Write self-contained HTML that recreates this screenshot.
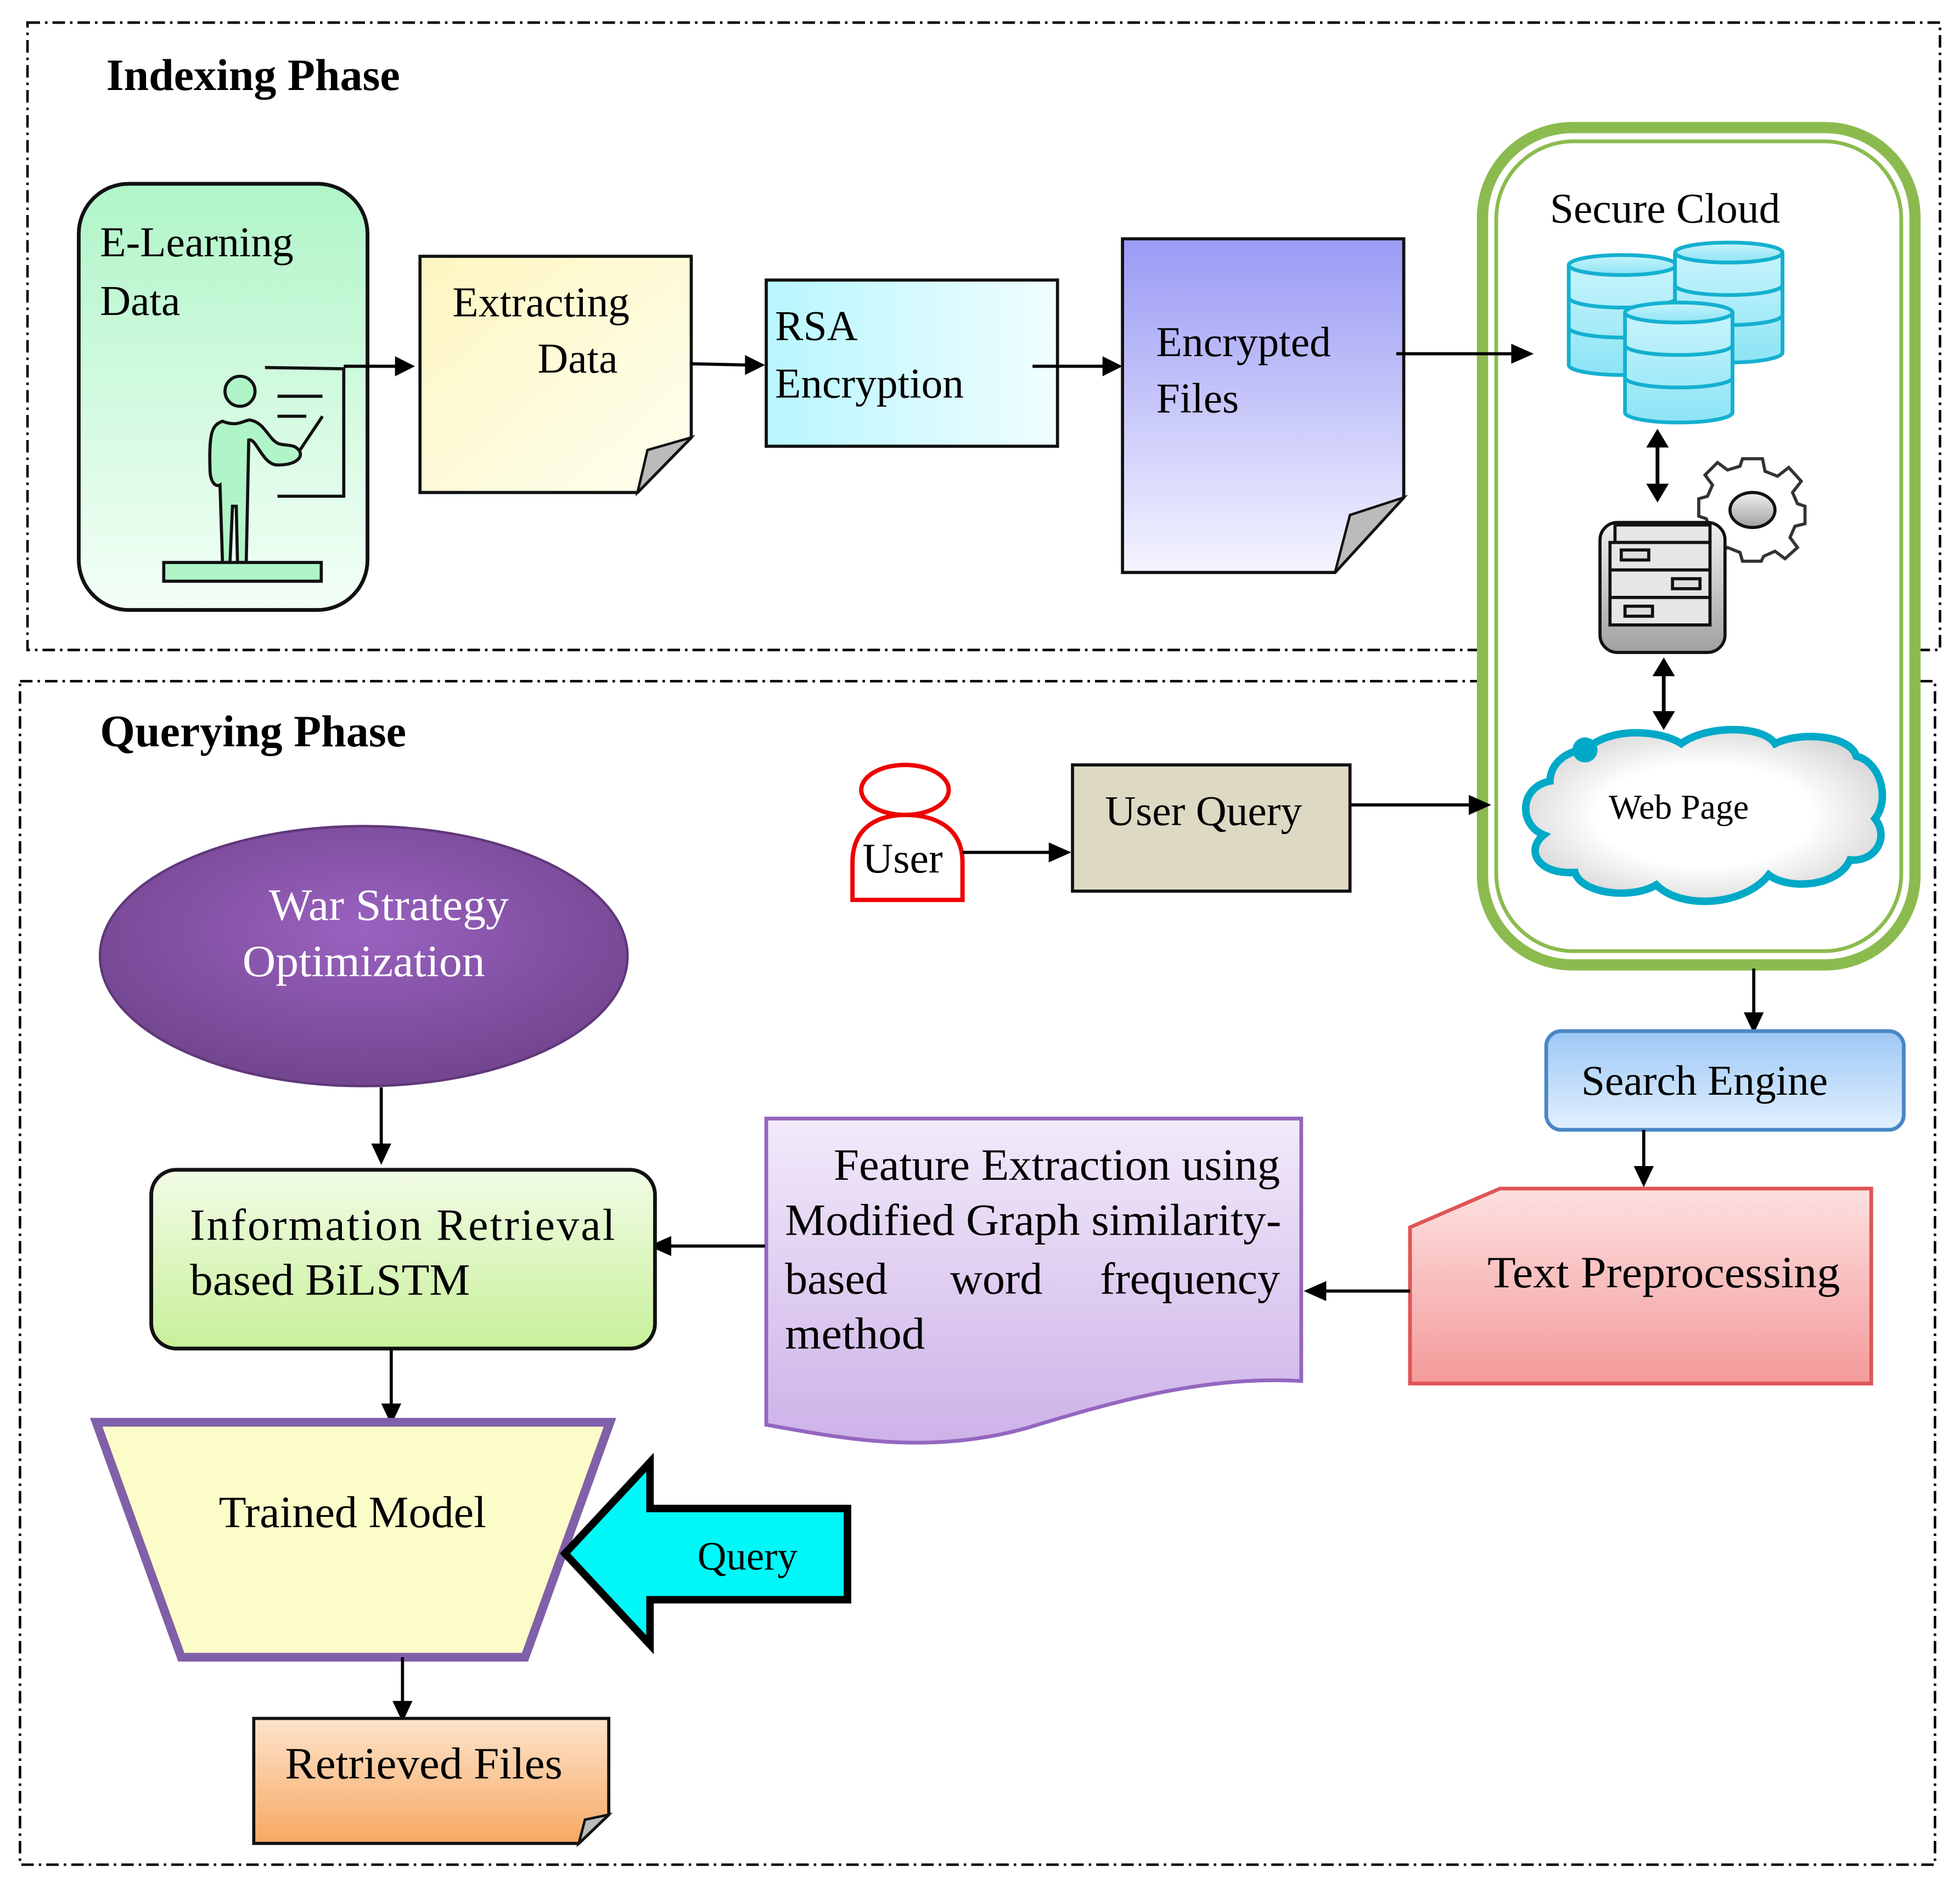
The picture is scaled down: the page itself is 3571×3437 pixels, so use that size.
<!DOCTYPE html>
<html><head><meta charset="utf-8"><style>html,body{margin:0;padding:0;background:#fff}svg{display:block}svg text{font-family:"Liberation Serif","Times New Roman",serif}</style></head>
<body>
<svg width="3571" height="3437" viewBox="0 0 1568 1509" xmlns="http://www.w3.org/2000/svg" style="font-family:'Liberation Serif',serif">
<defs>
<linearGradient id="gGreen" x1="0" y1="0" x2="0" y2="1"><stop offset="0" stop-color="#b0f5c8"/><stop offset="1" stop-color="#f4fff7"/></linearGradient>
<linearGradient id="gYel" x1="0" y1="0" x2="1" y2="1"><stop offset="0" stop-color="#fdf6c0"/><stop offset="1" stop-color="#fffff0"/></linearGradient>
<linearGradient id="gCyan" x1="0" y1="0" x2="1" y2="0"><stop offset="0" stop-color="#b8f6ff"/><stop offset="1" stop-color="#f0feff"/></linearGradient>
<linearGradient id="gBlue" x1="0" y1="0" x2="0" y2="1"><stop offset="0" stop-color="#9a9af5"/><stop offset="1" stop-color="#f4f4ff"/></linearGradient>
<linearGradient id="gSE" x1="0" y1="0" x2="0" y2="1"><stop offset="0" stop-color="#9cc8f5"/><stop offset="1" stop-color="#e2f0ff"/></linearGradient>
<linearGradient id="gTP" x1="0" y1="0" x2="0" y2="1"><stop offset="0" stop-color="#fde0e0"/><stop offset="1" stop-color="#f49a9a"/></linearGradient>
<linearGradient id="gFE" x1="0" y1="0" x2="0" y2="1"><stop offset="0" stop-color="#f2eafa"/><stop offset="1" stop-color="#cdb2e8"/></linearGradient>
<linearGradient id="gIR" x1="0" y1="0" x2="0" y2="1"><stop offset="0" stop-color="#f2fce6"/><stop offset="1" stop-color="#c8f09a"/></linearGradient>
<linearGradient id="gRF" x1="0" y1="0" x2="0" y2="1"><stop offset="0" stop-color="#fde4cc"/><stop offset="1" stop-color="#f7a862"/></linearGradient>
<linearGradient id="gDB" x1="0" y1="0" x2="0" y2="1"><stop offset="0" stop-color="#c8f4fc"/><stop offset="1" stop-color="#8ce4f5"/></linearGradient>
<radialGradient id="gWSO" cx="0.5" cy="0.4" r="0.6"><stop offset="0" stop-color="#9a62c0"/><stop offset="1" stop-color="#72458f"/></radialGradient>
<radialGradient id="gCl" cx="0.5" cy="0.5" r="0.6"><stop offset="0.5" stop-color="#ffffff"/><stop offset="1" stop-color="#cfcfcf"/></radialGradient>
<linearGradient id="gSrv" x1="0" y1="0" x2="0" y2="1"><stop offset="0" stop-color="#f0f0f0"/><stop offset="1" stop-color="#a0a0a0"/></linearGradient>
</defs>
<g fill="none" stroke="#000" stroke-width="2" stroke-dasharray="10,4,2,4">
<rect x="22" y="18" width="1530" height="502"/>
<rect x="16" y="545" width="1532" height="947"/>
</g>
<text x="85" y="72" font-size="36" font-weight="bold">Indexing Phase</text>
<text x="80" y="597" font-size="36" font-weight="bold">Querying Phase</text>

<rect x="63" y="147" width="231" height="341" rx="40" fill="url(#gGreen)" stroke="#111" stroke-width="3"/>
<text x="80" y="205" font-size="34">E-Learning</text>
<text x="80" y="252" font-size="34">Data</text>
<g stroke="#111" stroke-width="2.5" fill="#b0f5c8">
<polyline points="212,294 275,295 275,397 222,397" fill="none"/>
<line x1="222" y1="317" x2="258" y2="317"/><line x1="222" y1="333" x2="245" y2="333"/><line x1="240" y1="360" x2="258" y2="333"/>
<circle cx="192" cy="313" r="12"/>
<path d="M178,337 C170,340 167,345 168,375 C168,385 172,390 176,388 L178,450 L184,450 L186,405 L189,405 L190,450 L197,450 L199,352 C205,350 210,372 222,372 C238,372 243,365 239,360 C235,355 230,357 223,355 C215,352 212,338 200,336 C195,336 190,342 178,337 Z"/>
<rect x="131" y="450" width="126" height="15"/>
</g>
<line x1="275" y1="293" x2="318" y2="293" stroke="#000" stroke-width="2.5"/><path d="M332,293 L316,285 L316,301Z"/>

<path d="M336,205 L553,205 L553,350 L510,394 L336,394Z" fill="url(#gYel)" stroke="#111" stroke-width="2.5"/>
<path d="M510,394 L518,360 L553,350Z" fill="#bbb" stroke="#111" stroke-width="2"/>
<text x="362" y="253" font-size="34">Extracting</text>
<text x="430" y="298" font-size="34">Data</text>
<line x1="553" y1="291" x2="598" y2="292" stroke="#000" stroke-width="2.5"/><path d="M612,292 L596,284 L596,300Z"/>

<rect x="613" y="224" width="233" height="133" fill="url(#gCyan)" stroke="#111" stroke-width="2.5"/>
<text x="620" y="272" font-size="34">RSA</text>
<text x="620" y="318" font-size="34">Encryption</text>
<line x1="826" y1="293" x2="884" y2="293" stroke="#000" stroke-width="2.5"/><path d="M898,293 L882,285 L882,301Z"/>

<path d="M898,191 L1123,191 L1123,398 L1068,458 L898,458Z" fill="url(#gBlue)" stroke="#111" stroke-width="2.5"/>
<path d="M1068,458 L1080,412 L1123,398Z" fill="#bbb" stroke="#111" stroke-width="2"/>
<text x="925" y="285" font-size="34">Encrypted</text>
<text x="925" y="330" font-size="34">Files</text>

<rect x="1186" y="102" width="346" height="670" rx="72" fill="#fff" stroke="#8bbb4f" stroke-width="9"/>
<rect x="1197" y="113" width="324" height="648" rx="62" fill="none" stroke="#8bbb4f" stroke-width="3"/>
<line x1="1117" y1="283" x2="1211" y2="283" stroke="#000" stroke-width="2.5"/><path d="M1227,283 L1209,275 L1209,291Z"/>
<text x="1240" y="178" font-size="34">Secure Cloud</text>
<g stroke="#14b0d0" stroke-width="3" fill="url(#gDB)">
<path d="M1255,212 L1255,292 A43,8 0 0 0 1341,292 L1341,212"/><ellipse cx="1298" cy="212" rx="43" ry="8"/>
<path d="M1255,238 A43,8 0 0 0 1341,238 M1255,262 A43,8 0 0 0 1341,262" fill="none"/>
<path d="M1340,202 L1340,282 A43,8 0 0 0 1426,282 L1426,202"/><ellipse cx="1383" cy="202" rx="43" ry="8"/>
<path d="M1340,228 A43,8 0 0 0 1426,228 M1340,252 A43,8 0 0 0 1426,252" fill="none"/>
<path d="M1300,250 L1300,330 A43,8 0 0 0 1386,330 L1386,250"/><ellipse cx="1343" cy="250" rx="43" ry="8"/>
<path d="M1300,276 A43,8 0 0 0 1386,276 M1300,302 A43,8 0 0 0 1386,302" fill="none"/>
</g>
<line x1="1326" y1="355" x2="1326" y2="390" stroke="#000" stroke-width="3"/>
<path d="M1326,343 L1317,358 L1335,358Z M1326,402 L1317,387 L1335,387Z"/>
<line x1="1331" y1="538" x2="1331" y2="572" stroke="#000" stroke-width="3"/>
<path d="M1331,526 L1322,541 L1340,541Z M1331,584 L1322,569 L1340,569Z"/>
<g transform="translate(1402,407)">
<path d="M-8,-40 L8,-40 L10,-30 L20,-26 L29,-33 L39,-22 L32,-13 L36,-4 L42,-2 L42,12 L34,14 L30,23 L36,31 L26,40 L18,34 L9,38 L7,42 L-8,42 L-10,35 L-20,31 L-28,37 L-39,27 L-33,18 L-37,8 L-43,6 L-43,-8 L-36,-10 L-32,-19 L-38,-27 L-28,-37 L-20,-31 L-10,-34Z" fill="#fff" stroke="#333" stroke-width="2.5"/>
<ellipse cx="0" cy="1" rx="18" ry="14" fill="url(#gSrv)" stroke="#111" stroke-width="2.5"/>
</g>
<rect x="1280" y="418" width="100" height="104" rx="14" fill="url(#gSrv)" stroke="#111" stroke-width="2.5"/>
<g fill="#e6e6e6" stroke="#111" stroke-width="2.5">
<rect x="1292" y="420" width="76" height="14"/>
<rect x="1288" y="434" width="80" height="22"/><rect x="1297" y="440" width="22" height="8" fill="#ddd"/>
<rect x="1288" y="456" width="80" height="22"/><rect x="1338" y="463" width="22" height="8" fill="#ddd"/>
<rect x="1288" y="478" width="80" height="22"/><rect x="1300" y="485" width="22" height="8" fill="#ddd"/>
</g>
<path d="M1268,600 C1290,580 1330,585 1345,595 C1365,580 1410,580 1420,595 C1440,585 1480,588 1485,605 C1505,610 1512,640 1500,655 C1512,670 1500,690 1480,688 C1470,710 1430,712 1415,700 C1395,725 1345,728 1325,708 C1305,720 1265,715 1260,698 C1230,700 1220,680 1235,668 C1215,660 1215,630 1240,625 C1240,610 1255,600 1268,600Z" fill="url(#gCl)" stroke="#00a9c8" stroke-width="6"/>
<circle cx="1268" cy="600" r="10" fill="#00a9c8"/>
<text x="1287" y="655" font-size="28">Web Page</text>

<ellipse cx="724" cy="632" rx="35" ry="20" fill="#fff" stroke="#e00" stroke-width="3.5"/>
<path d="M682,720 L682,690 C682,660 705,652 724,652 C745,652 770,660 770,690 L770,720Z" fill="#fff" stroke="#e00" stroke-width="3.5"/>
<text x="690" y="698" font-size="34">User</text>
<line x1="770" y1="682" x2="841" y2="682" stroke="#000" stroke-width="2.5"/><path d="M857,682 L839,674 L839,690Z"/>
<rect x="858" y="612" width="222" height="101" fill="#ddd9c3" stroke="#111" stroke-width="2.5"/>
<text x="884" y="660" font-size="34">User Query</text>
<line x1="1080" y1="644" x2="1177" y2="644" stroke="#000" stroke-width="2.5"/><path d="M1193,644 L1175,636 L1175,652Z"/>

<line x1="1403" y1="775" x2="1403" y2="812" stroke="#000" stroke-width="2.5"/><path d="M1403,827 L1395,810 L1411,810Z"/>
<rect x="1237" y="825" width="286" height="79" rx="12" fill="url(#gSE)" stroke="#4a86c5" stroke-width="3"/>
<text x="1265" y="876" font-size="34">Search Engine</text>
<line x1="1315" y1="904" x2="1315" y2="935" stroke="#000" stroke-width="2.5"/><path d="M1315,950 L1307,933 L1323,933Z"/>

<path d="M1128,982 L1200,951 L1497,951 L1497,1107 L1128,1107Z" fill="url(#gTP)" stroke="#e05555" stroke-width="3"/>
<text x="1190" y="1030" font-size="36" textLength="282" lengthAdjust="spacingAndGlyphs">Text Preprocessing</text>
<line x1="1128" y1="1033" x2="1060" y2="1033" stroke="#000" stroke-width="2.5"/><path d="M1043,1033 L1061,1025 L1061,1041Z"/>

<path d="M613,895 L1041,895 L1041,1105 C960,1100 880,1125 820,1143 C740,1165 670,1150 613,1140Z" fill="url(#gFE)" stroke="#9466c0" stroke-width="3"/>
<text x="667" y="944" font-size="36" textLength="357" lengthAdjust="spacingAndGlyphs">Feature Extraction using</text>
<text x="628" y="988" font-size="36" textLength="397" lengthAdjust="spacingAndGlyphs">Modified Graph similarity-</text>
<text x="628" y="1035" font-size="36">based</text>
<text x="760" y="1035" font-size="36">word</text>
<text x="880" y="1035" font-size="36" textLength="144" lengthAdjust="spacingAndGlyphs">frequency</text>
<text x="628" y="1079" font-size="36" textLength="112" lengthAdjust="spacingAndGlyphs">method</text>
<line x1="612" y1="997" x2="535" y2="997" stroke="#000" stroke-width="2.5"/><path d="M519,997 L537,989 L537,1005Z"/>

<rect x="121" y="936" width="403" height="143" rx="20" fill="url(#gIR)" stroke="#111" stroke-width="3"/>
<text x="152" y="992" font-size="36" textLength="340" lengthAdjust="spacing">Information Retrieval</text>
<text x="152" y="1036" font-size="36" textLength="224" lengthAdjust="spacingAndGlyphs">based BiLSTM</text>

<ellipse cx="291" cy="765" rx="211" ry="104" fill="url(#gWSO)" stroke="#60387a" stroke-width="2"/>
<text x="215" y="736" font-size="36" fill="#fff" textLength="192" lengthAdjust="spacingAndGlyphs">War Strategy</text>
<text x="194" y="781" font-size="36" fill="#fff" textLength="194" lengthAdjust="spacingAndGlyphs">Optimization</text>
<line x1="305" y1="870" x2="305" y2="917" stroke="#000" stroke-width="2.5"/><path d="M305,932 L297,915 L313,915Z"/>
<line x1="313" y1="1079" x2="313" y2="1125" stroke="#000" stroke-width="2.5"/><path d="M313,1140 L305,1123 L321,1123Z"/>

<path d="M77,1138 L488,1138 L420,1326 L145,1326Z" fill="#fbfcc8" stroke="#8060a8" stroke-width="7"/>
<text x="175" y="1222" font-size="36" textLength="214" lengthAdjust="spacingAndGlyphs">Trained Model</text>
<path d="M452,1243 L520,1170 L520,1207 L678,1207 L678,1280 L520,1280 L520,1316Z" fill="#00f8f8" stroke="#000" stroke-width="6"/>
<text x="558" y="1256" font-size="32">Query</text>
<line x1="322" y1="1326" x2="322" y2="1362" stroke="#000" stroke-width="2.5"/><path d="M322,1378 L314,1361 L330,1361Z"/>

<path d="M203,1375 L487,1375 L487,1452 L463,1475 L203,1475Z" fill="url(#gRF)" stroke="#111" stroke-width="2.5"/>
<path d="M463,1475 L468,1456 L487,1452Z" fill="#bbb" stroke="#111" stroke-width="2"/>
<text x="228" y="1423" font-size="36" textLength="222" lengthAdjust="spacingAndGlyphs">Retrieved Files</text>
</svg>
</body></html>
